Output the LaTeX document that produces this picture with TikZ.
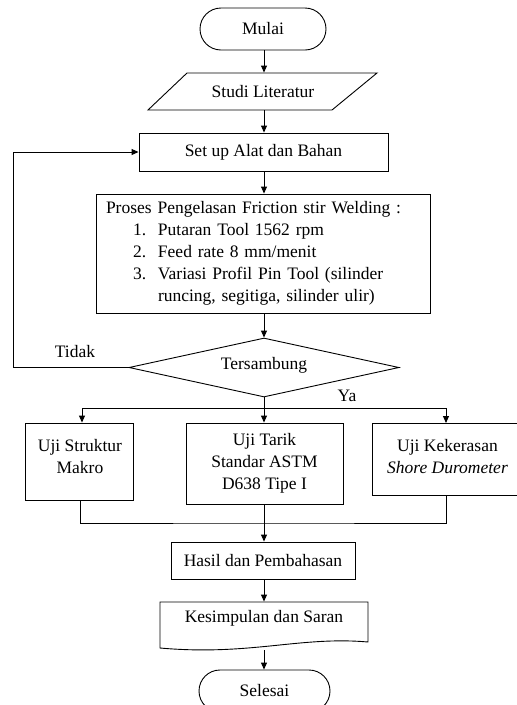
\documentclass[tikz,border=0pt]{standalone}
\usepackage{fontspec}
\setmainfont{Liberation Serif}
\usetikzlibrary{arrows.meta,shapes.geometric}
\begin{document}
\begin{tikzpicture}[x=1pt,y=-1pt,
  every node/.style={font=\fontsize{17.5}{22}\selectfont, inner sep=0pt},
  line width=0.9pt,
  >={Triangle[length=7pt,width=6pt]},
  box/.style={draw, rectangle},
  term/.style={draw, rectangle, rounded corners=21pt, minimum height=42pt},
  txt/.style={align=center}]
\useasboundingbox (0,0) rectangle (517,705);
\clip (0,0) rectangle (517,705);
% start
\node[term, minimum width=126pt] (mulai) at (263,29) {Mulai};
% studi literatur
\node[minimum width=160pt, minimum height=37pt] (studi) at (263,91.5) {\makebox[0pt]{Studi Literatur}};
\draw (187,73) -- (377,73) -- (332,110) -- (148,110) -- cycle;
% set up
\node[box, minimum width=249pt, minimum height=38pt] (setup) at (263.5,152) {Set up Alat dan Bahan};
% proses
\node[box, minimum width=334pt, minimum height=119pt, text width=314pt, inner xsep=10pt, align=left] (proses) at (263,253.5)
 {Proses Pengelasan Friction stir Welding :\\
  \hspace*{27pt}\makebox[25pt][l]{1.}Putaran Tool 1562 rpm\\
  \hspace*{27pt}\makebox[25pt][l]{2.}Feed rate 8 mm/menit\\
  \hspace*{27pt}\makebox[25pt][l]{3.}Variasi Profil Pin Tool (silinder\\
  \hspace*{52pt}runcing, segitiga, silinder ulir)};
% decision
\node[draw, diamond, aspect=4.6, minimum width=270pt, minimum height=59pt] (dec) at (264,367.5) {};
\node (tersambung) at (264,365) {Tersambung};
\node (tidak) at (75,352) {Tidak};
\node (ya) at (347,396) {Ya};
% tests
\node[box, minimum width=108pt, minimum height=77pt] (makro) at (79,461.5) {};
\node[txt] (makrot) at (80,457) {Uji Struktur\\Makro};
\node[box, minimum width=157pt, minimum height=81pt, txt] (tarik) at (264.5,463.5) {Uji Tarik\\Standar ASTM\\D638 Tipe I};
\node[box, minimum width=145pt, minimum height=72pt] (keras) at (445,459) {};
\node[txt] (kerast) at (447.5,457) {Uji Kekerasan\\\textit{Shore Durometer}};
% results
\node[box, minimum width=184pt, minimum height=37pt] (hasil) at (263,560.5) {Hasil dan Pembahasan};
% document shape
\node[minimum width=208pt, minimum height=46pt] (kesim) at (264,625) {};
\draw (160,602) -- (368,602) -- (368,642) .. controls (300,636) and (250,656) .. (160,648) -- cycle;
\node (kesimt) at (264,618) {Kesimpulan dan Saran};
% end
\node[term, minimum width=131pt] (selesai) at (264.5,691) {Selesai};
% connectors
\draw[->] (mulai.south -| 264,0) -- (studi.north -| 264,0);
\draw[->] (studi.south -| 264,0) -- (setup.north -| 264,0);
\draw[->] (setup.south -| 264,0) -- (proses.north -| 264,0);
\draw[->] (proses.south -| dec.north) -- (dec.north);
\coordinate (fb) at (13,367.5);
\draw[->] (dec.west) -- (fb) |- (setup.west);
\coordinate (split) at (264,408);
\draw (dec.south) -- (split);
\draw[->] (split) -| (makro.north -| 82,0);
\draw[->] (split) -| (446,423);
\draw[->] (split) -- (tarik.north -| split);
\coordinate (merge) at (264,523);
\draw (makro.south -| 80,0) |- (merge) -| (446,495);
\draw[->] (tarik.south -| merge) -- (hasil.north -| merge);
\draw[->] (hasil.south -| merge) -- (kesim.north -| merge);
\draw[->] (264,650) -- (selesai.north -| 264,0);
\end{tikzpicture}
\end{document}
